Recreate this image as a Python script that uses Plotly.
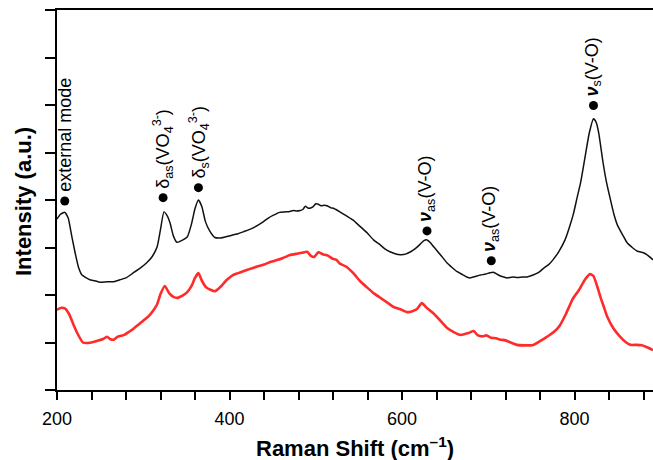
import plotly.graph_objects as go

# Raman shift (cm-1) and intensity (a.u.)
black_x = [200,204,209,213,217,221,225,229,234,238,244,250,258,266,273,280,288,296,304,310,316,320,324,328,331,335,339,345,351,356,360,364,368,372,377,383,390,397,405,410,416,422,428,434,439,445,451,458,464,470,474,478,482,485,488,491,494,497,500,503,506,510,513,517,521,528,536,543,551,560,567,575,581,586,592,598,604,610,615,620,625,629,633,637,644,652,658,664,670,675,679,685,691,697,702,706,710,714,718,722,728,734,740,745,752,758,764,770,775,782,789,794,799,803,807,812,817,822,825,828,833,837,842,846,850,856,861,867,873,880,886,891]
black_y = [3.60,3.70,3.74,3.62,3.25,2.89,2.58,2.42,2.36,2.32,2.30,2.27,2.28,2.28,2.32,2.36,2.46,2.56,2.68,2.80,3.01,3.38,3.75,3.66,3.52,3.24,3.11,3.15,3.22,3.50,3.82,4.00,3.86,3.55,3.35,3.21,3.20,3.23,3.27,3.29,3.33,3.37,3.42,3.48,3.54,3.62,3.68,3.74,3.75,3.76,3.78,3.77,3.78,3.80,3.87,3.83,3.83,3.86,3.92,3.91,3.88,3.89,3.88,3.84,3.82,3.75,3.66,3.58,3.45,3.30,3.16,3.05,2.96,2.91,2.87,2.85,2.86,2.91,2.97,3.05,3.14,3.16,3.10,3.01,2.86,2.68,2.58,2.49,2.43,2.38,2.36,2.39,2.42,2.44,2.47,2.48,2.44,2.40,2.38,2.36,2.38,2.37,2.38,2.38,2.42,2.47,2.56,2.64,2.74,2.92,3.16,3.42,3.73,4.05,4.36,4.88,5.40,5.71,5.64,5.42,4.80,4.38,3.98,3.68,3.46,3.26,3.10,3.00,2.92,2.89,2.82,2.74]

red_x = [200,205,209,214,219,224,230,236,242,248,254,258,262,266,270,274,278,283,288,294,300,306,311,316,320,325,330,335,340,346,351,356,360,364,368,373,378,383,390,397,404,410,416,424,432,440,448,456,462,470,478,484,490,494,498,503,508,514,520,524,528,535,543,551,560,567,575,583,590,598,606,612,617,623,628,636,645,652,660,668,677,683,688,693,698,703,709,714,719,726,733,742,752,760,768,776,783,790,798,805,812,818,822,826,830,834,838,845,853,860,865,872,878,884,891]
red_y = [1.69,1.73,1.72,1.60,1.38,1.18,1.00,0.99,1.01,1.04,1.08,1.12,1.07,1.06,1.12,1.14,1.16,1.22,1.28,1.37,1.46,1.55,1.66,1.80,2.02,2.19,2.04,1.96,1.94,1.99,2.06,2.19,2.36,2.46,2.30,2.16,2.11,2.08,2.18,2.32,2.42,2.46,2.50,2.55,2.60,2.64,2.70,2.74,2.78,2.84,2.87,2.89,2.91,2.83,2.80,2.90,2.86,2.83,2.76,2.74,2.66,2.60,2.47,2.30,2.15,2.04,1.94,1.84,1.75,1.70,1.64,1.66,1.70,1.83,1.74,1.62,1.45,1.31,1.22,1.16,1.20,1.24,1.15,1.13,1.15,1.10,1.09,1.06,1.05,1.00,0.95,0.94,0.95,1.03,1.12,1.22,1.36,1.60,1.92,2.10,2.32,2.44,2.40,2.20,1.96,1.75,1.54,1.30,1.12,1.00,0.95,0.95,0.94,0.90,0.84]

# band assignments (dot positions)
band_x = [209, 323, 364, 629, 703.5, 822]
band_y = [3.98, 4.05, 4.26, 3.35, 2.72, 5.99]
band_labels = [
    "external mode",
    "δ<sub>as</sub>(VO<sub>4</sub><sup>3-</sup>)",
    "δ<sub>s</sub>(VO<sub>4</sub><sup>3-</sup>)",
    "<b><i>ν</i></b><sub>as</sub>(V-O)",
    "<b><i>ν</i></b><sub>as</sub>(V-O)",
    "<b><i>ν</i></b><sub>s</sub>(V-O)",
]

x_ticks = list(range(200, 900, 40))
x_ticktext = [str(v) if v % 200 == 0 else "" for v in x_ticks]
y_ticks = list(range(0, 9))

FONT = "Liberation Sans, Arial, sans-serif"

fig = go.Figure()
fig.add_trace(go.Scatter(x=red_x, y=red_y, mode="lines",
                         line=dict(color="#ff2b2b", width=2.6, shape="spline", smoothing=0.5),
                         showlegend=False, hoverinfo="skip"))
fig.add_trace(go.Scatter(x=black_x, y=black_y, mode="lines",
                         line=dict(color="#111111", width=1.5, shape="spline", smoothing=0.5),
                         showlegend=False, hoverinfo="skip"))
fig.add_trace(go.Scatter(x=band_x, y=band_y, mode="markers",
                         marker=dict(color="black", size=9),
                         showlegend=False, hoverinfo="skip"))

for bx, by, txt in zip(band_x, band_y, band_labels):
    fig.add_annotation(x=bx, y=by, xref="x", yref="y", text=txt, showarrow=False,
                       textangle=-90, xanchor="center", yanchor="bottom", yshift=7,
                       font=dict(family=FONT, size=18, color="black"))

fig.add_annotation(x=(23 - 57) / 596, y=(390 - 202) / 380, xref="paper", yref="paper",
                   text="<b>Intensity (a.u.)</b>", showarrow=False, textangle=-90,
                   xanchor="center", yanchor="middle",
                   font=dict(family=FONT, size=22, color="black"))
fig.add_annotation(x=(355 - 57) / 596, y=(390 - 447) / 380, xref="paper", yref="paper",
                   text="<b>Raman Shift (cm<sup>–1</sup>)</b>", showarrow=False,
                   xanchor="center", yanchor="middle",
                   font=dict(family=FONT, size=22, color="black"))

fig.update_layout(
    width=653, height=460,
    margin=dict(l=57, r=0, t=10, b=70),
    paper_bgcolor="white", plot_bgcolor="white",
    font=dict(family=FONT, color="black"),
    xaxis=dict(range=[200, 891], tickvals=x_ticks, ticktext=x_ticktext,
               ticks="outside", ticklen=8, tickwidth=1.6, tickcolor="black",
               showline=True, linewidth=2, linecolor="black", mirror=True,
               showgrid=False, zeroline=False, ticklabelstandoff=3,
               tickfont=dict(family=FONT, size=18, color="black")),
    yaxis=dict(range=[0, 8], tickvals=y_ticks, showticklabels=False,
               ticks="outside", ticklen=10, tickwidth=1.6, tickcolor="black",
               showline=True, linewidth=2, linecolor="black",
               showgrid=False, zeroline=False),
)

fig.write_html("out.html")
